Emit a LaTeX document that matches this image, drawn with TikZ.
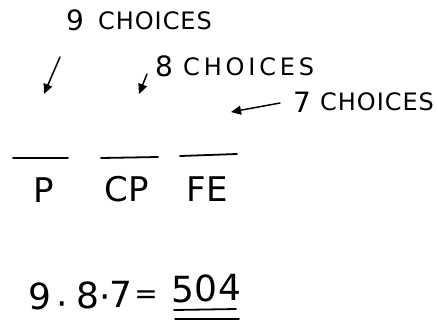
\documentclass[tikz,border=0pt]{standalone}
\usepackage{fontspec}
\setsansfont{DejaVu Sans}
\usetikzlibrary{arrows.meta}
\tikzset{
  lbl/.style={inner sep=0pt, font=\sffamily\fontsize{24}{24}\selectfont},
  wide/.style={font=\sffamily\fontsize{24}{24}\selectfont\addfontfeature{LetterSpace=#1}},
  num/.style={inner sep=0pt, font=\sffamily\fontsize{28}{28}\selectfont},
  big/.style={inner sep=0pt, font=\sffamily\fontsize{34}{34}\selectfont},
  dig/.style={inner sep=0pt, font=\sffamily\fontsize{36}{36}\selectfont},
  ink/.style={line width=1.8pt, line cap=round},
  arr/.style={ink, line width=1.5pt, -{Triangle[length=10pt,width=9pt]}},
}
\begin{document}
\begin{tikzpicture}[x=1pt,y=-1pt]
\useasboundingbox (0,0) rectangle (438,325);
% labels
\node[num] (n9) at (75,20) {9};
\node[lbl, wide=4, anchor=west] (c9) at (98,21) {CHOICES};
\node[num] (n8) at (164,66) {8};
\node[lbl, wide=16, anchor=west] (c8) at (183,67) {CHOICES};
\node[num] (n7) at (302,102) {7};
\node[lbl, wide=4, anchor=west] (c7) at (320,102) {CHOICES};
% arrows
\coordinate (a1s) at (60,57);  \coordinate (a1e) at (44,94);
\coordinate (a2s) at (147,74); \coordinate (a2e) at (139,94);
\coordinate (a3s) at (280,103); \coordinate (a3e) at (231,112);
\draw[arr] (a1s) -- (a1e);
\draw[arr] (a2s) -- (a2e);
\draw[arr] (a3s) -- (a3e);
% blanks
\coordinate (b1s) at (13,158); \coordinate (b1e) at (68,158);
\coordinate (b2s) at (101,158); \coordinate (b2e) at (158,157);
\coordinate (b3s) at (180,156); \coordinate (b3e) at (237,154);
\draw[ink] (b1s) -- (b1e);
\draw[ink] (b2s) -- (b2e);
\draw[ink] (b3s) -- (b3e);
\node[big] (p) at (44,190) {P};
\node[big] (cp) at (127,189) {CP};
\node[big] (fe) at (207,189) {FE};
% product
\node[dig] (d9) at (40,296) {9};
\node[dig] (dot1) at (62,309) {·};
\node[dig] (d8) at (88,295) {8};
\node[dig] (dot2) at (105,302) {·};
\node[dig] (d7) at (121,294) {7};
\node[inner sep=0pt, font=\sffamily\fontsize{28}{28}\selectfont] (eq) at (146,297) {=};
\node[dig] (d5) at (183,290) {5};
\node[dig] (d0) at (206,288) {0};
\node[dig] (d4) at (230,287) {4};
\coordinate (u1s) at (174,310); \coordinate (u1e) at (236,309);
\coordinate (u2s) at (175,319); \coordinate (u2e) at (239,319);
\draw[ink] (u1s) -- (u1e);
\draw[ink, line width=1.5pt] (u2s) -- (u2e);
\end{tikzpicture}
\end{document}
